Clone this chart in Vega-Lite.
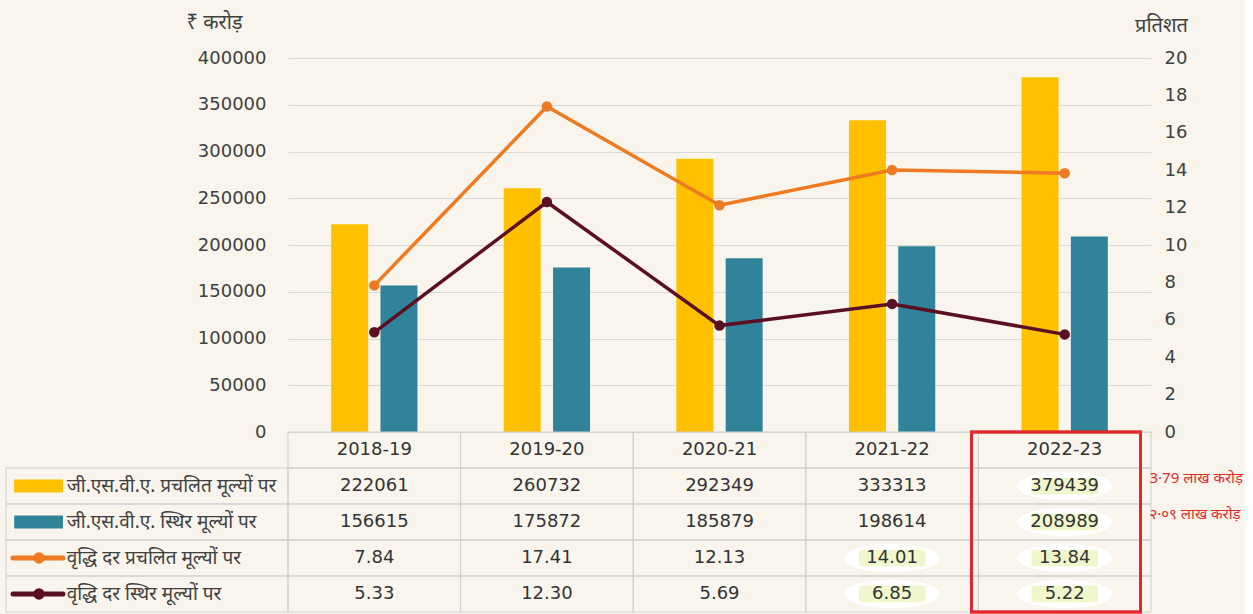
{
  "$schema": "https://vega.github.io/schema/vega-lite/v6.json",
  "background": "#f9f5ec",
  "padding": {"top": 12, "left": 5, "right": 2, "bottom": 0},
  "config": {
    "view": {"stroke": null},
    "font": "DejaVu Sans",
    "axis": {"labelFont": "DejaVu Sans", "labelFontSize": 18, "labelColor": "#404040", "domain": false, "ticks": false, "titleFont": "Noto Sans", "titleFontWeight": "normal", "titleColor": "#404040", "titleFontSize": 20}
  },
  "datasets": {
    "main": [
      {"year": "2018-19", "series": "जी.एस.वी.ए. प्रचलित मूल्यों पर", "value": 222061},
      {"year": "2019-20", "series": "जी.एस.वी.ए. प्रचलित मूल्यों पर", "value": 260732},
      {"year": "2020-21", "series": "जी.एस.वी.ए. प्रचलित मूल्यों पर", "value": 292349},
      {"year": "2021-22", "series": "जी.एस.वी.ए. प्रचलित मूल्यों पर", "value": 333313},
      {"year": "2022-23", "series": "जी.एस.वी.ए. प्रचलित मूल्यों पर", "value": 379439},
      {"year": "2018-19", "series": "जी.एस.वी.ए. स्थिर मूल्यों पर", "value": 156615},
      {"year": "2019-20", "series": "जी.एस.वी.ए. स्थिर मूल्यों पर", "value": 175872},
      {"year": "2020-21", "series": "जी.एस.वी.ए. स्थिर मूल्यों पर", "value": 185879},
      {"year": "2021-22", "series": "जी.एस.वी.ए. स्थिर मूल्यों पर", "value": 198614},
      {"year": "2022-23", "series": "जी.एस.वी.ए. स्थिर मूल्यों पर", "value": 208989},
      {"year": "2018-19", "series": "वृद्धि दर प्रचलित मूल्यों पर", "value": 7.84},
      {"year": "2019-20", "series": "वृद्धि दर प्रचलित मूल्यों पर", "value": 17.41},
      {"year": "2020-21", "series": "वृद्धि दर प्रचलित मूल्यों पर", "value": 12.13},
      {"year": "2021-22", "series": "वृद्धि दर प्रचलित मूल्यों पर", "value": 14.01},
      {"year": "2022-23", "series": "वृद्धि दर प्रचलित मूल्यों पर", "value": 13.84},
      {"year": "2018-19", "series": "वृद्धि दर स्थिर मूल्यों पर", "value": 5.33},
      {"year": "2019-20", "series": "वृद्धि दर स्थिर मूल्यों पर", "value": 12.30},
      {"year": "2020-21", "series": "वृद्धि दर स्थिर मूल्यों पर", "value": 5.69},
      {"year": "2021-22", "series": "वृद्धि दर स्थिर मूल्यों पर", "value": 6.85},
      {"year": "2022-23", "series": "वृद्धि दर स्थिर मूल्यों पर", "value": 5.22}
    ]
  },
  "concat": [
    {
      "width": 282,
      "height": 374,
      "data": {"values": [{}]},
      "mark": {"type": "text"},
      "encoding": {"text": {"value": ""}}
    },
    {
      "width": 863,
      "height": 374,
      "data": {"name": "main"},
      "layer": [
        {
          "transform": [{"filter": "indexof(datum.series, 'जी.एस.वी.ए.') == 0"}],
          "mark": {"type": "bar"},
          "encoding": {
            "x": {"field": "year", "type": "nominal", "sort": null, "scale": {"paddingInner": 0.5, "paddingOuter": 0.25}, "axis": null},
            "xOffset": {"field": "series", "type": "nominal", "sort": null, "scale": {"paddingInner": 0.25, "paddingOuter": 0}},
            "y": {"field": "value", "type": "quantitative", "scale": {"domain": [0, 400000], "nice": false},
              "axis": {"values": [0, 50000, 100000, 150000, 200000, 250000, 300000, 350000, 400000], "format": "d", "grid": true, "gridColor": "#d9d9d9", "labelPadding": 22,
                "title": "₹ करोड़", "titleAngle": 0, "titleX": -102, "titleY": -36, "titleAlign": "left", "titleBaseline": "middle"}},
            "color": {"field": "series", "type": "nominal", "legend": null,
              "scale": {"domain": ["जी.एस.वी.ए. प्रचलित मूल्यों पर", "जी.एस.वी.ए. स्थिर मूल्यों पर", "वृद्धि दर प्रचलित मूल्यों पर", "वृद्धि दर स्थिर मूल्यों पर"], "range": ["#FFC000", "#31839A", "#EE7B22", "#5A1020"]}}
          }
        },
        {
          "transform": [{"filter": "indexof(datum.series, 'वृद्धि') == 0"}],
          "mark": {"type": "line", "strokeWidth": 3.5, "point": {"filled": true, "size": 110}},
          "encoding": {
            "x": {"field": "year", "type": "nominal", "sort": null},
            "y": {"field": "value", "type": "quantitative", "scale": {"domain": [0, 20], "nice": false},
              "axis": {"orient": "right", "values": [0, 2, 4, 6, 8, 10, 12, 14, 16, 18, 20], "grid": false, "labelPadding": 13,
                "title": "प्रतिशत", "titleAngle": 0, "titleX": 10, "titleY": -33, "titleAlign": "center", "titleBaseline": "middle"}},
            "color": {"field": "series", "type": "nominal", "legend": null}
          }
        }
      ],
      "resolve": {"scale": {"y": "independent"}}
    },
    {
      "width": 282,
      "height": 180,
      "data": {"name": "main"},
      "transform": [{"filter": "datum.year == '2018-19'"}],
      "layer": [
        {
          "mark": {"type": "rect", "fill": null, "stroke": "#cfcfcf", "strokeWidth": 1},
          "encoding": {
            "y": {"field": "series", "type": "nominal", "scale": {"domain": ["hdr", "जी.एस.वी.ए. प्रचलित मूल्यों पर", "जी.एस.वी.ए. स्थिर मूल्यों पर", "वृद्धि दर प्रचलित मूल्यों पर", "वृद्धि दर स्थिर मूल्यों पर"], "paddingInner": 0, "paddingOuter": 0}, "axis": null}
          }
        },
        {
          "transform": [{"filter": "indexof(datum.series, 'जी.एस.वी.ए.') == 0"}],
          "mark": {"type": "rule", "strokeWidth": 13, "strokeCap": "butt"},
          "encoding": {
            "x": {"datum": 0.029, "type": "quantitative", "scale": {"domain": [0, 1], "nice": false, "zero": false}, "axis": null},
            "x2": {"datum": 0.202},
            "y": {"field": "series", "type": "nominal"},
            "color": {"field": "series", "type": "nominal", "legend": null,
              "scale": {"domain": ["जी.एस.वी.ए. प्रचलित मूल्यों पर", "जी.एस.वी.ए. स्थिर मूल्यों पर", "वृद्धि दर प्रचलित मूल्यों पर", "वृद्धि दर स्थिर मूल्यों पर"], "range": ["#FFC000", "#31839A", "#EE7B22", "#5A1020"]}}
          }
        },
        {
          "transform": [{"filter": "indexof(datum.series, 'वृद्धि') == 0"}],
          "mark": {"type": "rule", "strokeWidth": 5, "strokeCap": "round"},
          "encoding": {
            "x": {"datum": 0.025, "type": "quantitative"},
            "x2": {"datum": 0.202},
            "y": {"field": "series", "type": "nominal"},
            "color": {"field": "series", "type": "nominal", "legend": null}
          }
        },
        {
          "transform": [{"filter": "indexof(datum.series, 'वृद्धि') == 0"}],
          "mark": {"type": "point", "filled": true, "size": 130, "opacity": 1},
          "encoding": {
            "x": {"datum": 0.117, "type": "quantitative"},
            "y": {"field": "series", "type": "nominal"},
            "color": {"field": "series", "type": "nominal", "legend": null}
          }
        },
        {
          "mark": {"type": "text", "align": "left", "baseline": "middle", "font": "Noto Sans", "fontSize": 19, "color": "#404040"},
          "encoding": {
            "x": {"datum": 0.215, "type": "quantitative"},
            "y": {"field": "series", "type": "nominal"},
            "text": {"field": "series"}
          }
        }
      ]
    },
    {
      "width": 863,
      "height": 180,
      "data": {"name": "main"},
      "encoding": {
        "x": {"field": "year", "type": "nominal", "sort": null, "scale": {"paddingInner": 0, "paddingOuter": 0}, "axis": null}
      },
      "layer": [
        {
          "mark": {"type": "rect", "fill": null, "stroke": "#cfcfcf", "strokeWidth": 1},
          "encoding": {
            "y": {"field": "series", "type": "nominal", "scale": {"domain": ["hdr", "जी.एस.वी.ए. प्रचलित मूल्यों पर", "जी.एस.वी.ए. स्थिर मूल्यों पर", "वृद्धि दर प्रचलित मूल्यों पर", "वृद्धि दर स्थिर मूल्यों पर"], "paddingInner": 0, "paddingOuter": 0},
              "axis": {"orient": "right", "title": null, "labelPadding": -2, "labelAlign": "left", "labelBaseline": "bottom", "labelColor": "#e32b2b", "labelFont": "Noto Sans", "labelFontSize": 15,
                "labelExpr": "datum.value == 'जी.एस.वी.ए. प्रचलित मूल्यों पर' ? '3·79 लाख करोड़' : (datum.value == 'जी.एस.वी.ए. स्थिर मूल्यों पर' ? '२·०९ लाख करोड़' : '')"}}
          }
        },
        {
          "transform": [{"filter": "datum.series == 'जी.एस.वी.ए. प्रचलित मूल्यों पर'"}],
          "mark": {"type": "rect", "fill": null, "stroke": "#cfcfcf", "strokeWidth": 1},
          "encoding": {"y": {"datum": "hdr", "type": "nominal"}}
        },
        {
          "transform": [{"filter": "datum.year == '2022-23' || (datum.year == '2021-22' && indexof(datum.series, 'वृद्धि') == 0)"}],
          "mark": {"type": "point", "filled": true, "color": "#ffffff", "opacity": 1, "size": 9000, "shape": "M-1,0A1,0.3 0 1 1 1,0A1,0.3 0 1 1 -1,0Z"},
          "encoding": {"y": {"field": "series", "type": "nominal"}}
        },
        {
          "transform": [{"filter": "datum.year == '2022-23' || (datum.year == '2021-22' && indexof(datum.series, 'वृद्धि') == 0)"}],
          "mark": {"type": "point", "filled": true, "color": "#eef4bf", "opacity": 0.8, "size": 4400, "shape": "M-1,-0.25L1,-0.25L1,0.25L-1,0.25Z"},
          "encoding": {"y": {"field": "series", "type": "nominal"}}
        },
        {
          "transform": [{"filter": "datum.year == '2022-23'"}],
          "mark": {"type": "rect", "fill": null, "stroke": "#e0282c", "strokeWidth": 2.5},
          "encoding": {
            "x": {"field": "year", "type": "nominal", "sort": null, "bandPosition": -0.04},
            "x2": {"field": "year", "bandPosition": 0.94}
          }
        },
        {
          "transform": [{"filter": "datum.series == 'जी.एस.वी.ए. प्रचलित मूल्यों पर'"}],
          "mark": {"type": "text", "fontSize": 18, "color": "#333333", "baseline": "middle"},
          "encoding": {"y": {"datum": "hdr", "type": "nominal"}, "text": {"field": "year"}}
        },
        {
          "transform": [{"filter": "indexof(datum.series, 'जी.एस.वी.ए.') == 0"}],
          "mark": {"type": "text", "fontSize": 18, "color": "#333333", "baseline": "middle"},
          "encoding": {"y": {"field": "series", "type": "nominal"}, "text": {"field": "value", "type": "quantitative", "format": "d"}}
        },
        {
          "transform": [{"filter": "indexof(datum.series, 'वृद्धि') == 0"}],
          "mark": {"type": "text", "fontSize": 18, "color": "#333333", "baseline": "middle"},
          "encoding": {"y": {"field": "series", "type": "nominal"}, "text": {"field": "value", "type": "quantitative", "format": ".2f"}}
        }
      ]
    }
  ],
  "columns": 2,
  "spacing": 0,
  "bounds": "flush"
}
